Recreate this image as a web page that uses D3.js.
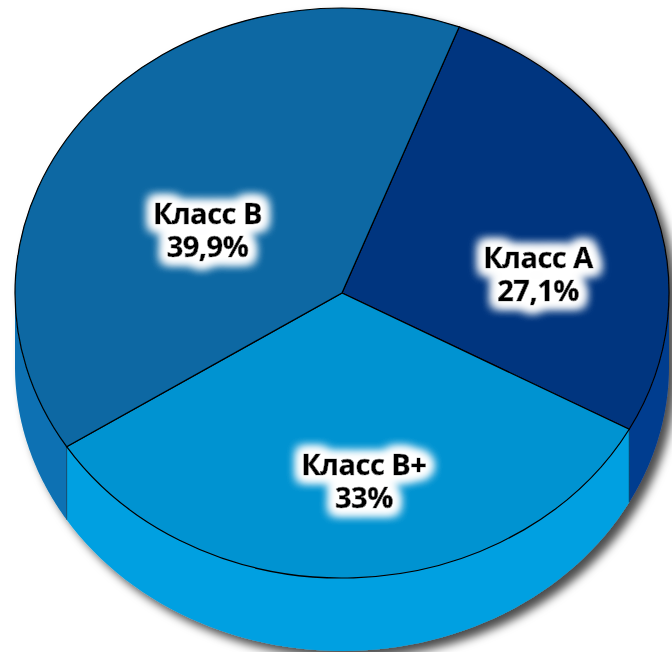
<!DOCTYPE html>
<html>
<head>
<meta charset="utf-8">
<script src="https://cdn.jsdelivr.net/npm/d3@7"></script>
<style>
  body { margin: 0; background: #fff; }
  svg { display: block; }
</style>
</head>
<body>
<svg id="chart" width="672" height="652"></svg>
<script>
// data (clockwise from the A/B border)
const categories = ["Класс А", "Класс В+", "Класс В"];
const values = [27.1, 33, 39.9];
const valueLabels = ["27,1%", "33%", "39,9%"];
const topColors = ["#02347f", "#0093d1", "#0767a3"];
const sideColors = ["#023c8f", "#00a0e1", "#0871b3"];

const svg = d3.select("#chart"),
  width = +svg.attr("width"),
  height = +svg.attr("height");

// ellipse geometry of the tilted pie
const cx = 342, cy = 293, rx = 327, ry = 285, depth = 73;
const startDeg = 21;

const defs = svg.append("defs");

// drop shadow of the whole disc
const shadow = defs.append("filter").attr("id", "shadow")
  .attr("x", "-10%").attr("y", "-10%").attr("width", "130%").attr("height", "130%");
shadow.append("feDropShadow")
  .attr("dx", 7).attr("dy", 7).attr("stdDeviation", 5)
  .attr("flood-color", "#000").attr("flood-opacity", 0.7);

// white glow behind labels
const glow = defs.append("filter").attr("id", "glow")
  .attr("x", "-30%").attr("y", "-50%").attr("width", "160%").attr("height", "200%");
glow.append("feMorphology").attr("in", "SourceAlpha").attr("operator", "dilate").attr("radius", 5).attr("result", "d");
glow.append("feGaussianBlur").attr("in", "d").attr("stdDeviation", 5.5).attr("result", "b");
glow.append("feFlood").attr("flood-color", "#fff");
glow.append("feComposite").attr("in2", "b").attr("operator", "in").attr("result", "g");
const merge = glow.append("feMerge");
merge.append("feMergeNode").attr("in", "g");
merge.append("feMergeNode").attr("in", "g");
merge.append("feMergeNode").attr("in", "g");
merge.append("feMergeNode").attr("in", "SourceGraphic");

const pie = d3.pie().sort(null).value(d => d)
  .startAngle(startDeg * Math.PI / 180)
  .endAngle(startDeg * Math.PI / 180 + 2 * Math.PI);
const arcs = pie(values);

// point on the ellipse at angle a (clockwise from top), radius fraction r, drop z
function pt(a, r, z) {
  return [cx + r * rx * Math.sin(a), cy - r * ry * Math.cos(a) + z];
}

const disc = svg.append("g").attr("filter", "url(#shadow)");

// side walls: only the front half (90..270 deg) is visible
const lo = Math.PI / 2, hi = 3 * Math.PI / 2;
const line = d3.line();
arcs.forEach((d, i) => {
  [0, 2 * Math.PI].forEach(shift => {
    const a0 = Math.max(d.startAngle - shift, lo);
    const a1 = Math.min(d.endAngle - shift, hi);
    if (a1 <= a0) return;
    const n = 60;
    const topPts = d3.range(n + 1).map(k => pt(a0 + (a1 - a0) * k / n, 1, 0));
    const botPts = d3.range(n + 1).map(k => pt(a1 - (a1 - a0) * k / n, 1, depth));
    disc.append("path")
      .attr("d", line(topPts.concat(botPts)) + "Z")
      .attr("fill", sideColors[i]);
  });
});

// vertical edges where slices meet on the front side
arcs.forEach(d => {
  const a = d.startAngle % (2 * Math.PI);
  if (a > lo && a < hi) {
    disc.append("path")
      .attr("d", line([pt(a, 1, 0), pt(a, 1, depth)]))
      .attr("stroke", "#0b3550").attr("stroke-width", 0.8).attr("stroke-opacity", 0.8);
  }
});

// top face: circular arcs squashed into the ellipse
const arc = d3.arc().innerRadius(0).outerRadius(rx);
disc.append("g")
  .attr("transform", `translate(${cx},${cy}) scale(1,${ry / rx})`)
  .selectAll("path")
  .data(arcs)
  .join("path")
  .attr("d", arc)
  .attr("fill", (d, i) => topColors[i])
  .attr("stroke", "#000")
  .attr("stroke-width", 1.2)
  .attr("vector-effect", "non-scaling-stroke");

// labels
const labels = svg.append("g")
  .attr("font-family", "'Open Sans', sans-serif")
  .attr("font-weight", 700)
  .attr("font-size", 29)
  .attr("letter-spacing", -0.5)
  .attr("text-anchor", "middle")
  .attr("fill", "#000")
  .attr("stroke", "#000")
  .attr("stroke-width", 0.6);

arcs.forEach((d, i) => {
  const mid = (d.startAngle + d.endAngle) / 2;
  const x = cx + 0.59 * rx * Math.sin(mid) + 15;
  const yc = cy - 0.54 * ry * Math.cos(mid) + 34;
  const t = labels.append("g").attr("filter", "url(#glow)")
    .append("text").attr("x", x).attr("y", yc - 6);
  t.append("tspan").attr("x", x).text(categories[i]);
  t.append("tspan").attr("x", x).attr("dy", 33).text(valueLabels[i]);
});
</script>
</body>
</html>
